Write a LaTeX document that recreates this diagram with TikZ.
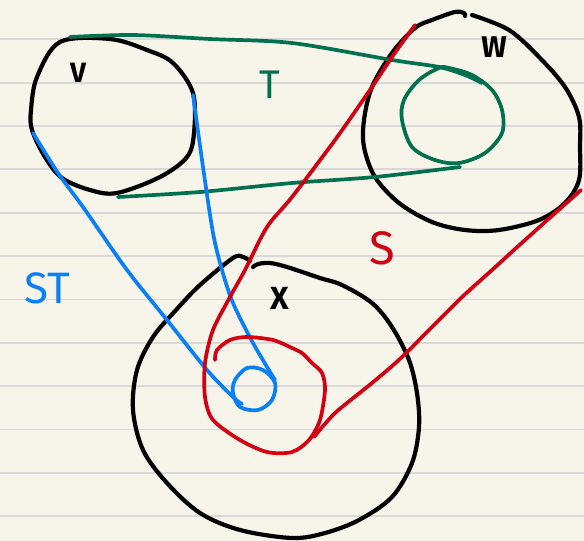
\documentclass[tikz,border=0pt]{standalone}
\usepackage{fontspec}
\setmainfont{Fira Sans}
\definecolor{paper}{HTML}{F7F5EA}
\definecolor{rulecol}{HTML}{D9D9D9}
\definecolor{pgreen}{HTML}{00704F}
\definecolor{pblue}{HTML}{0A80F8}
\definecolor{pred}{HTML}{D20012}
\begin{document}
\begin{tikzpicture}[x=1pt,y=-1pt,
  ink/.style={line width=4.2pt,line cap=round,line join=round,black},
  cink/.style={line width=3.7pt,line cap=round,line join=round},
  lbl/.style={inner sep=0pt,font=\fontsize{#1}{#1}\selectfont}]
\fill[paper] (0,0) rectangle (584,541);
\useasboundingbox (0,0) rectangle (584,541);
\foreach \k in {0,...,11}
  \draw[rulecol,line width=1.8pt] (0,{39.3+43.35*\k}) -- (584,{39.3+43.35*\k});
% V circle
\draw[ink] plot[smooth cycle,tension=0.55] coordinates {(60,42) (110,39) (147,50) (173,63) (193,93) (194,133) (187,157) (160,177) (117,193) (90,190) (62,178) (45,157) (32,130) (31,110) (37,77)};
% W circle
\draw[ink] plot[smooth,tension=0.55] coordinates {(472,15) (509,30) (539,57) (565,87) (579,117) (580,147) (579,180) (565,203) (539,220) (499,230) (465,230) (432,222) (399,203) (375,177) (364,147) (364,120) (372,87) (392,53) (415,28) (432,20) (455,12) (464,13) (465,16)};
% X circle
\draw[ink] plot[smooth,tension=0.55] coordinates {(253,267) (258,264) (270,263) (287,267) (320,278) (342,285) (372,303) (392,327) (409,360) (417,393) (419,427) (412,463) (392,497) (359,520) (325,533) (292,538) (240,530) (200,513) (167,483) (143,450) (133,410) (137,370) (153,337) (176,310) (200,285) (233,258) (243,257) (250,261)};
% green
\draw[cink,pgreen] plot[smooth cycle,tension=0.55] coordinates {(439,68) (419,80) (404,100) (402,120) (412,147) (435,160) (459,163) (485,153) (502,133) (502,110) (492,90) (472,75) (449,68)};
\draw[cink,pgreen] plot[smooth,tension=0.5] coordinates {(70,37) (133,35) (210,39) (292,43) (392,60) (439,67) (465,75) (482,83)};
\draw[cink,pgreen] plot[smooth,tension=0.5] coordinates {(118,197) (200,192) (292,183) (375,177) (460,167)};
% blue
\draw[cink,pblue] plot[smooth,tension=0.5] coordinates {(33,133) (58,173) (83,207) (127,270) (167,320) (207,370) (233,397) (242,404)};
\draw[cink,pblue] plot[smooth,tension=0.5] coordinates {(193,95) (203,167) (213,233) (222,270) (233,303) (253,343) (275,380)};
\draw[cink,pblue] plot[smooth cycle,tension=0.55] coordinates {(235,380) (247,368) (263,370) (275,383) (272,400) (258,410) (240,407) (233,393)};
% red
\draw[cink,pred] plot[smooth,tension=0.5] coordinates {(415,25) (392,57) (372,87) (335,140) (292,197) (267,227) (245,270) (230,297) (213,330) (205,363) (205,397) (213,420) (240,440) (267,452) (292,452) (309,440) (320,420) (325,390) (322,373) (312,363) (302,353) (292,348) (273,340) (247,337) (230,340) (217,350) (215,360)};
\draw[cink,pred] plot[smooth,tension=0.4] coordinates {(314,437) (335,413) (372,383) (402,357) (459,300) (492,270) (525,240) (581,190)};
% labels
\node[lbl=28] (lv) at (78,73) {\bfseries V};
\node[lbl=30] (lw) at (494,47) {\bfseries W};
\node[lbl=32] (lx) at (280,298) {\bfseries X};
\node[lbl=40,text=pgreen] (lt) at (270,85) {T};
\node[lbl=44,text=pblue] (lst) at (47,288) {ST};
\node[lbl=47,text=pred] (ls) at (382,248) {S};
\end{tikzpicture}
\end{document}
